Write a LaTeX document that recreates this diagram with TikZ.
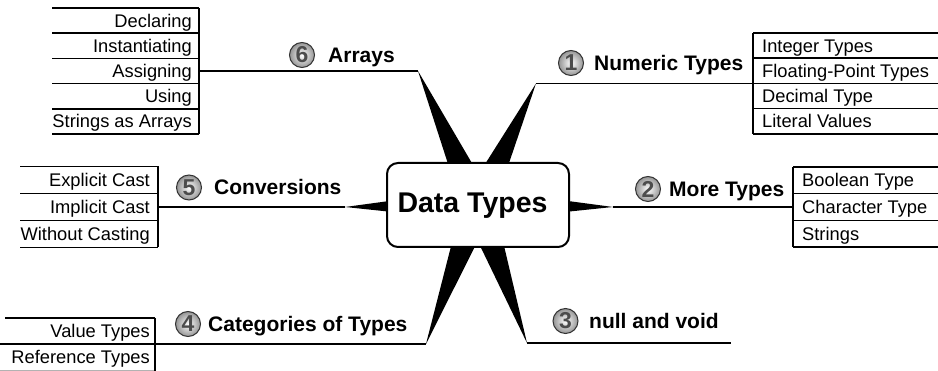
\documentclass[tikz,border=0pt]{standalone}
\usepackage{fontspec}
\setmainfont{Liberation Sans}
\usetikzlibrary{calc}
\begin{document}
\begin{tikzpicture}[x=1pt,y=-1pt,
  listline/.style={line width=1.5pt},
  branchline/.style={line width=1.5pt},
  itemR/.style={font=\fontsize{18.3}{20}\selectfont, inner sep=0pt, anchor=base east},
  itemL/.style={font=\fontsize{18.3}{20}\selectfont, inner sep=0pt, anchor=base west},
  lbltext/.style={font=\fontsize{21}{24}\selectfont\bfseries, inner sep=0pt, anchor=base west},
  numcircle/.style={circle, minimum size=25pt, inner sep=0pt, draw=black!80, line width=1pt,
    inner color=white, outer color=black!42, font=\fontsize{23}{24}\selectfont\bfseries, text=black!70},
  centerbox/.style={draw, line width=2pt, rounded corners=11pt, fill=white,
    minimum width=182pt, minimum height=84pt},
  centertext/.style={font=\fontsize{28.5}{30}\selectfont\bfseries, inner sep=0pt},
  wedge/.style={fill=black}]
\useasboundingbox (0,0) rectangle (938,371);

% hub and wedge tips
\coordinate (cc) at (478,205);
\coordinate (t1) at (536,83.5);
\coordinate (t2) at (613,207);
\coordinate (t3) at (527,343);
\coordinate (t4) at (426,344);
\coordinate (t5) at (345,207);
\coordinate (t6) at (418,71);
\foreach \t in {t1,t2,t3,t4,t5,t6}
  \fill[wedge] ($(cc)!16pt!90:(\t)$) -- (\t) -- ($(cc)!16pt!-90:(\t)$) -- cycle;
\node[centerbox] (c) at (cc) {};
\node[centertext] (ct) at (472.5,206) {Data Types};

% list spines (connection points)
\coordinate (s6) at (199,71);
\coordinate (s1) at (753,83.5);
\coordinate (s2) at (793,207);
\coordinate (s5) at (158,207);
\coordinate (s4) at (155,344);
\coordinate (e3) at (731,343);

% branch lines
\draw[branchline] (s6) -- (t6);
\draw[branchline] (t1) -- (s1);
\draw[branchline] (t2) -- (s2);
\draw[branchline] (t3) -- (e3);
\draw[branchline] (s4) -- (t4);
\draw[branchline] (s5) -- (t5);

% ---- 6 Arrays list
\foreach \yy in {8,33.2,58.4,83.6,108.8,134} \draw[listline] (52,\yy) -- (199,\yy);
\draw[listline] (199,8) -- (199,134);
\node[itemR] (a1) at (192,27.1) {Declaring};
\node[itemR] (a2) at (192,52.3) {Instantiating};
\node[itemR] (a3) at (192,77.5) {Assigning};
\node[itemR] (a4) at (192,102.7) {Using};
\node[itemR] (a5) at (192,127.9) {Strings as Arrays};

% ---- 1 Numeric list
\foreach \yy in {33,58.25,83.5,108.75,134} \draw[listline] (753,\yy) -- (938,\yy);
\draw[listline] (753,33) -- (753,134);
\node[itemL] (n1) at (762,52.1) {Integer Types};
\node[itemL] (n2) at (762,77.4) {Floating-Point Types};
\node[itemL] (n3) at (762,102.6) {Decimal Type};
\node[itemL] (n4) at (762,127.9) {Literal Values};

% ---- 2 More list
\foreach \yy in {167,193.7,220.3,247} \draw[listline] (793,\yy) -- (938,\yy);
\draw[listline] (793,167) -- (793,247);
\node[itemL] (m1) at (802,186.8) {Boolean Type};
\node[itemL] (m2) at (802,213.5) {Character Type};
\node[itemL] (m3) at (802,240.1) {Strings};

% ---- 5 Conversions list
\foreach \yy in {166.5,193.5,220.5,247.5} \draw[listline] (20,\yy) -- (158,\yy);
\draw[listline] (158,166.5) -- (158,247.5);
\node[itemR] (v1) at (150,186.5) {Explicit Cast};
\node[itemR] (v2) at (150,213.5) {Implicit Cast};
\node[itemR] (v3) at (150,240.5) {Without Casting};

% ---- 4 Categories list
\draw[listline] (5,318) -- (155,318);
\draw[listline] (0,344) -- (155,344);
\draw[listline, black!30] (0,370.3) -- (155,370.3);
\draw[listline] (155,318) -- (155,371);
\node[itemR] (k1) at (150,337.5) {Value Types};
\node[itemR] (k2) at (150,363.5) {Reference Types};

% ---- branch labels
\node[numcircle] (c6) at (302,55) {6};
\node[lbltext] (l6) at (328,62.5) {Arrays};
\node[numcircle] (c1) at (571,63) {1};
\node[lbltext] (l1) at (594,70.5) {Numeric Types};
\node[numcircle] (c2) at (648,189) {2};
\node[lbltext] (l2) at (669,196.5) {More Types};
\node[numcircle] (c3) at (565.5,321) {3};
\node[lbltext] (l3) at (589,328.5) {null and void};
\node[numcircle] (c4) at (188,324) {4};
\node[lbltext] (l4) at (208,331.5) {Categories of Types};
\node[numcircle] (c5) at (189,187.5) {5};
\node[lbltext] (l5) at (214,195) {Conversions};
\end{tikzpicture}
\end{document}
